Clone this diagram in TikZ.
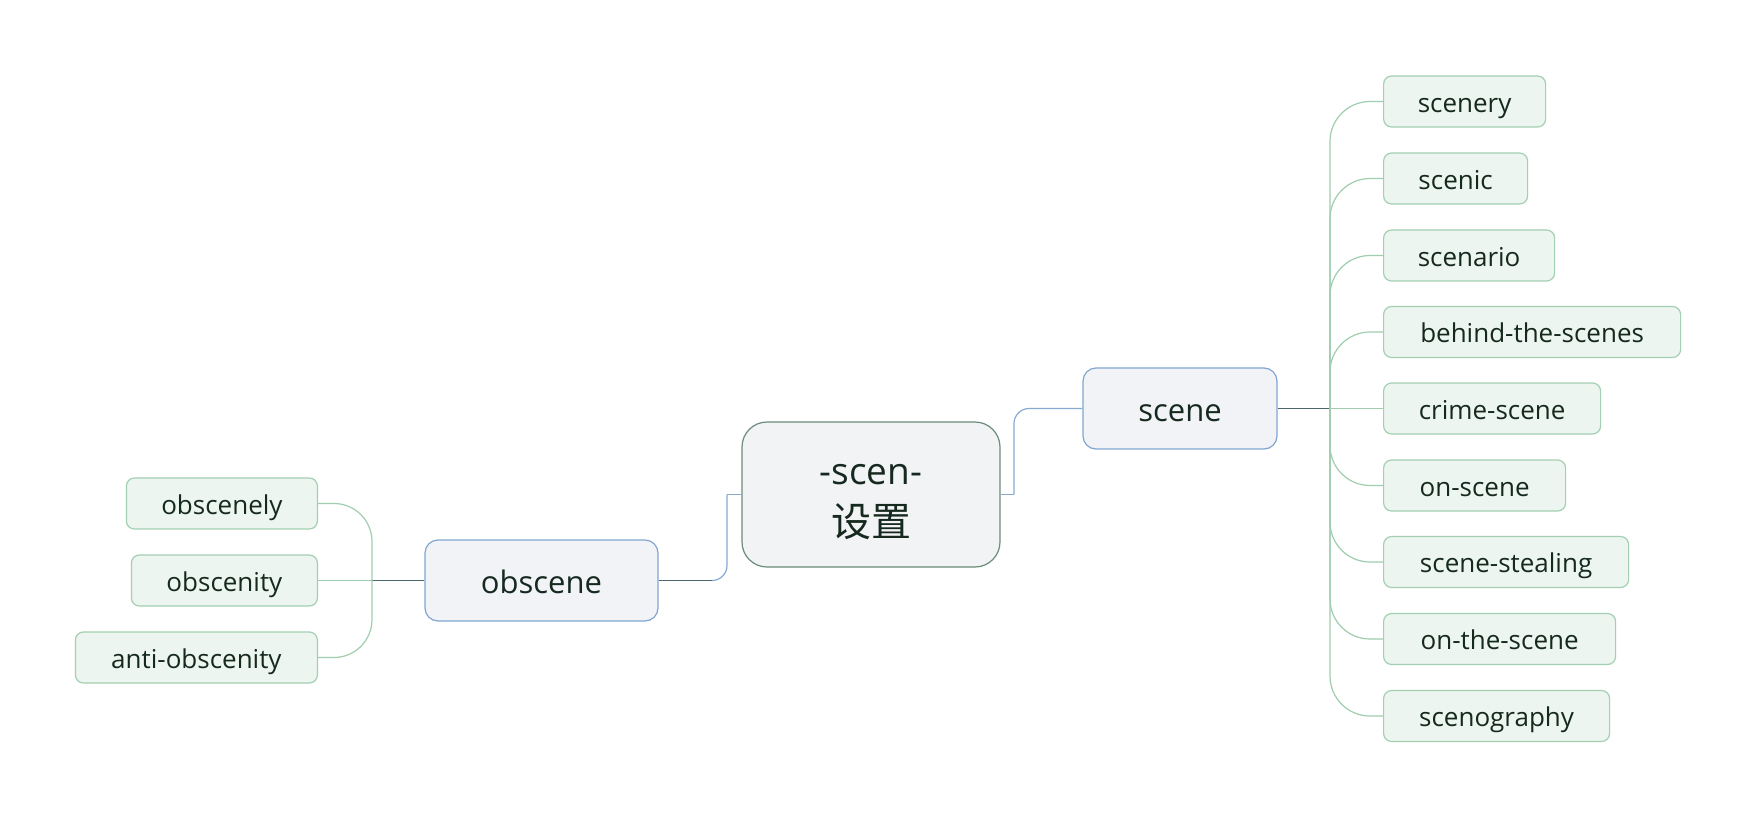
\documentclass[tikz,border=0pt]{standalone}
\usepackage{fontspec}
\setmainfont{Open Sans}
\newfontfamily\cjk{Noto Sans CJK SC}
\definecolor{txt}{HTML}{16291F}
\definecolor{childline}{HTML}{A3CFB2}
\definecolor{childfill}{HTML}{ECF5EF}
\definecolor{midline}{HTML}{80A6D0}
\definecolor{midfill}{HTML}{F1F3F7}
\definecolor{rootline}{HTML}{6B8C78}
\definecolor{rootfill}{HTML}{F1F3F5}
\definecolor{darklink}{HTML}{4D676A}
\definecolor{bluelink}{HTML}{86AAD2}
\definecolor{greenlink}{HTML}{9FCDAE}
\begin{document}
\begin{tikzpicture}[x=1pt,y=-1pt,
  box/.style={rectangle, rounded corners=8pt, line width=1.2pt, inner sep=0pt, text=txt},
  child/.style={box, draw=childline, fill=childfill, minimum height=51pt, text height=21pt, text depth=0pt, font=\fontsize{26}{30}\selectfont},
  mid/.style={box, draw=midline, fill=midfill, minimum height=81pt, rounded corners=13pt, text height=25.5pt, text depth=0pt, font=\fontsize{31}{36}\selectfont},
  root/.style={box, draw=rootline, fill=rootfill, minimum width=258pt, minimum height=145pt, rounded corners=25pt, align=center, font=\fontsize{37}{52}\selectfont},
  glink/.style={draw=greenlink, line width=1.2pt, rounded corners=40pt},
  dlink/.style={draw=darklink, line width=1.2pt},
  blink/.style={draw=bluelink, line width=1.2pt}]
\useasboundingbox (0,0) rectangle (1757,817);
\fill[white] (0,0) rectangle (1757,817);

% root and main branches
\node[root] (root) at (871,494.5) {\rule{0pt}{36pt}-scen-\\{\cjk\fontsize{40}{52}\selectfont 设置}};
\node[mid, minimum width=194pt] (scene) at (1180,408.5) {scene};
\node[mid, minimum width=233pt] (obscene) at (541.5,580.5) {obscene};

% right children
\node[child, anchor=west, minimum width=162pt] (scenery) at (1383,101.5) {scenery};
\node[child, anchor=west, minimum width=144pt] (scenic) at (1383,178.5) {scenic};
\node[child, anchor=west, minimum width=171pt] (scenario) at (1383,255.5) {scenario};
\node[child, anchor=west, minimum width=297pt] (behind) at (1383,332) {behind-the-scenes};
\node[child, anchor=west, minimum width=217pt] (crime) at (1383,408.5) {crime-scene};
\node[child, anchor=west, minimum width=182pt] (onscene) at (1383,485.5) {on-scene};
\node[child, anchor=west, minimum width=245pt] (stealing) at (1383,562) {scene-stealing};
\node[child, anchor=west, minimum width=232pt] (onthe) at (1383,639) {on-the-scene};
\node[child, anchor=west, minimum width=226pt] (scenography) at (1383,716) {scenography};

% left children
\node[child, anchor=east, minimum width=191pt] (obscenely) at (318,503.5) {obscenely};
\node[child, anchor=east, minimum width=186pt] (obscenity) at (318,580.5) {obscenity};
\node[child, anchor=east, minimum width=242pt] (anti) at (318,657.5) {anti-obscenity};

% connector junctions
\coordinate (cR) at (1014,494.5);
\coordinate (cL) at (727,494.5);
\coordinate (cLb) at (712,580.5);
\coordinate (rt) at (1330,408.5);
\coordinate (lt) at (372,580.5);

% root -> scene
\draw[blink] (root.east) -- (cR);
\draw[blink, rounded corners=15pt] (cR) |- (scene.west);
% root -> obscene
\draw[blink] (root.west) -- (cL);
\draw[blink, rounded corners=15pt] (cL) |- (cLb);
\draw[dlink] (cLb) -- (obscene.east);

% scene -> children
\draw[dlink] (scene.east) -- (rt);
\foreach \c in {scenery,scenic,scenario,behind,onscene,stealing,onthe,scenography}
  \draw[glink] (rt) |- (\c.west);
\draw[glink] (rt) -- (crime.west);

% obscene -> children
\draw[dlink] (obscene.west) -- (lt);
\draw[glink, rounded corners=38pt] (lt) |- (obscenely.east);
\draw[glink, rounded corners=38pt] (lt) |- (anti.east);
\draw[glink] (lt) -- (obscenity.east);
\end{tikzpicture}
\end{document}
